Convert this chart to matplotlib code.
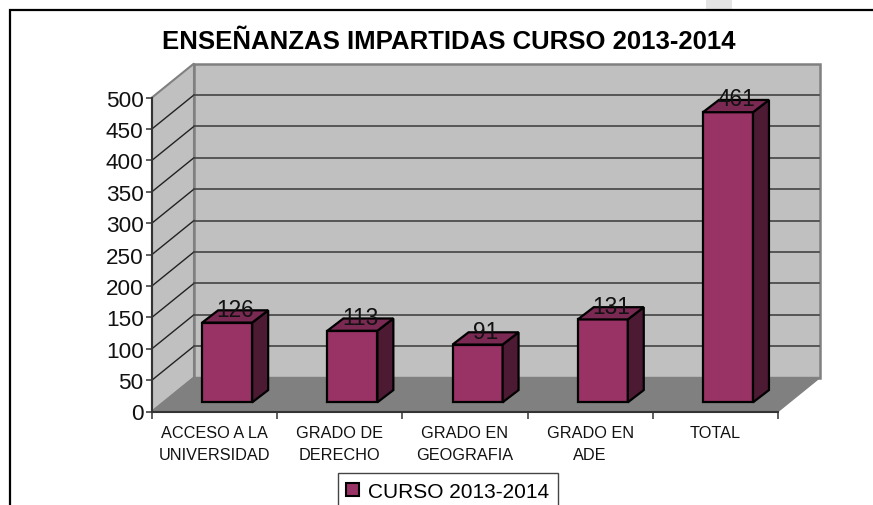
import matplotlib
matplotlib.use("Agg")
import matplotlib.pyplot as plt
from matplotlib.patches import Polygon, Rectangle, Patch
from matplotlib.lines import Line2D

plt.rcParams['font.family'] = ['Liberation Sans', 'DejaVu Sans']

categories = ["ACCESO A LA\nUNIVERSIDAD", "GRADO DE\nDERECHO", "GRADO EN\nGEOGRAFIA", "GRADO EN\nADE", "TOTAL"]
values = [126, 113, 91, 131, 461]
y_ticks = [0, 50, 100, 150, 200, 250, 300, 350, 400, 450, 500]
series_name = "CURSO 2013-2014"
title = "ENSEÑANZAS IMPARTIDAS CURSO 2013-2014"

W, H = 873, 506
L, R, T, B = 152, 778, 98.5, 412.5
fig = plt.figure(figsize=(W / 100, H / 100), dpi=100, facecolor='white')
ax = fig.add_axes([L / W, (H - B) / H, (R - L) / W, (B - T) / H])
ax.set_xlim(0, len(categories))
ax.set_ylim(0, 500)
ax.patch.set_visible(False)

# depth of the pseudo-3D box, in data units
DX = 42 / ((R - L) / len(categories))
DY = 34 / ((B - T) / 500)
ymax = y_ticks[-1]
n = len(categories)

def add_poly(pts, **kw):
    p = Polygon(pts, closed=True, clip_on=False, **kw)
    ax.add_patch(p)
    return p

# walls and floor
add_poly([(0, 0), (DX, DY), (DX, ymax + DY), (0, ymax)], fc='#C0C0C0', ec='#808080', lw=1.5, zorder=1)
add_poly([(DX, DY), (n + DX, DY), (n + DX, ymax + DY), (DX, ymax + DY)], fc='#C0C0C0', ec='#808080', lw=1.8, zorder=1)
add_poly([(0, 0), (n, 0), (n + DX, DY), (DX, DY)], fc='#808080', ec='#808080', lw=1, zorder=2)

# gridlines
for v in y_ticks[1:-1]:
    ax.plot([0, DX], [v, v + DY], color='#222222', lw=1.0, clip_on=False, zorder=2)
    ax.plot([DX, n + DX - 0.01], [v + DY, v + DY], color='#444444', lw=1.2, clip_on=False, zorder=2)

# bars
FRONT_X, FRONT_Y = 0.3, 0.27
SIDE_X, SIDE_Y = 0.38, 0.36
HALF = 25 / ((R - L) / n)
for i, v in enumerate(values):
    c = i + 0.5 + FRONT_X * DX
    y0 = FRONT_Y * DY
    dx = SIDE_X * DX
    dy = SIDE_Y * DY
    top = v + y0 + 1
    style = dict(ec='black', lw=1.6, joinstyle='miter', zorder=4)
    add_poly([(c - HALF, y0), (c + HALF, y0), (c + HALF, top), (c - HALF, top)], fc='#993366', **style)
    add_poly([(c + HALF, y0), (c + HALF + dx, y0 + dy), (c + HALF + dx, top + dy), (c + HALF, top)], fc='#4D1A33', **style)
    add_poly([(c - HALF, top), (c + HALF, top), (c + HALF + dx, top + dy), (c - HALF + dx, top + dy)], fc='#7A2952', **style)
    ax.annotate(str(v), (i + 0.5, v), xytext=(21 * 0.72, 23 * 0.72), textcoords='offset points',
                ha='center', va='center', fontsize=16.3, color='#111111', zorder=6, annotation_clip=False)

# axes
for s in ('top', 'right'):
    ax.spines[s].set_visible(False)
for s in ('left', 'bottom'):
    ax.spines[s].set_color('#333333')
    ax.spines[s].set_linewidth(1.5)
    ax.spines[s].set_zorder(5)
ax.set_yticks(y_ticks)
ax.set_yticklabels([str(v) for v in y_ticks])
ax.tick_params(axis='y', length=4.5, width=1.1, color='#333333', labelsize=16.2, pad=1.5, labelcolor='#111111')
ax.set_xticks(range(n + 1))
ax.set_xticklabels([])
ax.set_xticks([i + 0.5 for i in range(n)], minor=True)
ax.set_xticklabels(categories, minor=True, fontsize=11.7, linespacing=1.62, color='#111111')
ax.tick_params(axis='x', which='major', length=5, width=1.1, color='#333333')
ax.tick_params(axis='x', which='minor', length=0, pad=9.5)

# title
fig.text(449 / W, 1 - 42 / H, title, ha='center', va='center', fontsize=18.5, fontweight='bold', color='black')

# legend
handle = Patch(fc='#993366', ec='black', lw=1.5, label=series_name)
leg = fig.legend(handles=[handle], loc='center', bbox_to_anchor=(448 / W, 1 - 492.5 / H),
                 fontsize=15.0, fancybox=False, edgecolor='#444444', framealpha=1,
                 handlelength=0.62, handleheight=0.62, handletextpad=0.43, borderpad=0.42, borderaxespad=0)
leg.get_frame().set_linewidth(1.0)

# surrounding frame and the scrap of sheet above it
fig.add_artist(Line2D([10 / W, 10 / W, 1], [0, 1 - 11 / H, 1 - 11 / H], color='black', lw=1.6,
                      solid_joinstyle='miter', transform=fig.transFigure))
fig.add_artist(Rectangle((706 / W, 1 - 10 / H), 26 / W, 10 / H, fc='#E4E4E4', ec='none', transform=fig.transFigure))

fig.savefig('out.png', dpi=100)
